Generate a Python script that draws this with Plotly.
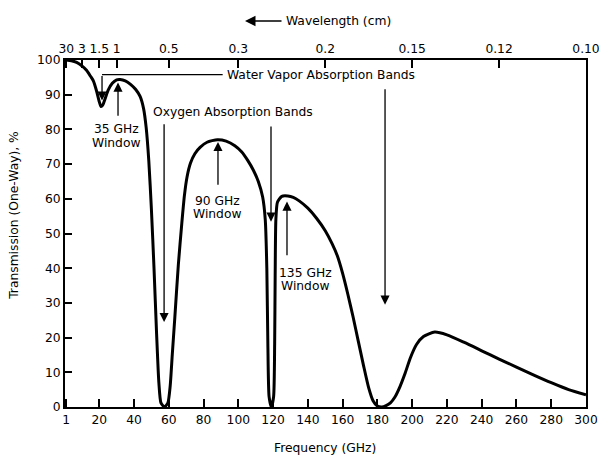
import plotly.graph_objects as go

# ---- data ----
freq_ghz = [1, 4, 7, 10, 12.8, 15, 16.6, 18.5, 20, 21, 22, 23.5, 25.2, 27.5, 30, 32, 35, 38, 41, 43.5,
            45.5, 47, 48.5, 50, 51.5, 53, 54.3, 55.5, 57.5, 59.5, 60.8, 62, 63.5, 65.5, 67.5, 69,
            70.5, 72.5, 75, 78, 82, 88, 93, 98, 102, 105.5, 108.6, 111.5, 114, 115.5, 116.4, 117, 117.7,
            119, 120.3, 120.9, 121.2, 121.6, 122.5, 125, 128.5, 131.6, 135, 140, 145, 150, 154, 157, 160,
            163, 166, 169, 172, 175, 177.5, 180, 182.5, 185, 187.5, 190, 193, 196, 199, 202.5, 206.5,
            213, 220, 230, 240, 250, 260, 270, 280, 290, 300]
transmission = [100, 99.8, 99.3, 98.3, 97, 95.3, 94, 91, 88, 86.6, 87, 89, 91.4, 93.3, 94.3, 94.4, 94, 93,
                91.5, 89.5, 86, 80.5, 71, 57, 40, 21, 7, 1.2, 0, 1.2, 6, 15, 26, 41, 53, 61,
                66.3, 70.3, 73, 74.8, 76.3, 77, 76.6, 75.3, 73.5, 71, 68.3, 65, 60.5, 54, 40, 18, 3,
                0, 3, 18, 38, 54, 59, 60.7, 60.8, 60.4, 59.4, 57.3, 54.4, 50.8, 47, 43.5, 38.5,
                32.5, 26, 19, 12, 5.5, 1.8, 0.3, 0, 0.4, 1.2, 2.8, 5.9, 9.8, 14.2, 18, 20.3,
                21.6, 20.8, 18.6, 16.2, 13.8, 11.5, 9.2, 7.0, 5.0, 3.5]

bottom_ticks = [1, 20, 40, 60, 80, 100, 120, 140, 160, 180, 200, 220, 240, 260, 280, 300]
bottom_labels = [str(v) for v in bottom_ticks]
wave_tick_freq = [1, 10, 20, 30, 60, 100, 150, 200, 250, 300]
wave_labels = ["30", "3", "1.5", "1", "0.5", "0.3", "0.2", "0.15", "0.12", "0.10"]
y_ticks = [0, 10, 20, 30, 40, 50, 60, 70, 80, 90, 100]

FONT = "DejaVu Sans"
FS = 12.3

fig = go.Figure()
fig.add_trace(go.Scatter(x=freq_ghz, y=transmission, mode="lines",
                         line=dict(color="black", width=3, shape="spline", smoothing=0.6),
                         showlegend=False, hoverinfo="skip"))
fig.add_trace(go.Scatter(x=[1, 300], y=[None, None], xaxis="x2", yaxis="y",
                         mode="lines", showlegend=False, hoverinfo="skip"))

common = dict(ticks="inside", tickwidth=1.5, tickcolor="black", showline=True, linecolor="black",
              linewidth=2, showgrid=False, zeroline=False, automargin=False,
              tickfont=dict(size=FS, family=FONT, color="black"))

fig.update_layout(
    width=601, height=458,
    margin=dict(l=65, r=15, t=60, b=51),
    paper_bgcolor="white", plot_bgcolor="white",
    font=dict(family=FONT, size=FS, color="black"),
    xaxis=dict(range=[0.3, 300], tickmode="array", tickvals=bottom_ticks, ticktext=bottom_labels,
               ticklen=8, **common),
    xaxis2=dict(range=[0.3, 300], overlaying="x", side="top", tickmode="array",
                tickvals=wave_tick_freq, ticktext=wave_labels, ticklen=8, **common),
    yaxis=dict(range=[0, 100], tickmode="array", tickvals=y_ticks, ticklen=7, mirror=True, **common),
)

def arrow(x, y_tail, y_tip):
    fig.add_annotation(x=x, y=y_tip, ax=x, ay=y_tail, xref="x", yref="y", axref="x", ayref="y",
                       text="", showarrow=True, arrowhead=2, arrowsize=1.4, arrowwidth=1.3,
                       arrowcolor="black", standoff=0, startstandoff=0)

def label(x, y, text, xanchor="center"):
    fig.add_annotation(x=x, y=y, xref="x", yref="y", text=text, showarrow=False,
                       xanchor=xanchor, yanchor="middle", font=dict(size=FS, family=FONT))

# Water vapor absorption bands
fig.add_shape(type="line", x0=21.6, x1=91.0, y0=95.8, y1=95.8, xref="x", yref="y",
              line=dict(color="black", width=1.3))
arrow(21.6, 95.8, 88.3)
label(92.3, 95.8, "Water Vapor Absorption Bands", xanchor="left")
arrow(184.4, 92.0, 29.5)

# Oxygen absorption bands
label(97, 85.0, "Oxygen Absorption Bands")
arrow(57.3, 81.9, 24.5)
arrow(118.8, 81.3, 53.4)

# Windows
arrow(30.8, 83.5, 93.5)
label(29.8, 80.0, "35 GHz")
label(29.8, 76.0, "Window")

arrow(88.3, 63.6, 76.4)
label(88.3, 59.4, "90 GHz")
label(88.3, 55.6, "Window")

arrow(128.0, 43.3, 59.2)
label(138.5, 38.7, "135 GHz")
label(138.5, 35.0, "Window")

# Axis titles (positions relative to the plot area, which spans px x 65-586, y 60-407)
fig.add_annotation(x=(325 - 65) / 521, y=(407.3 - 448) / 347.3, xref="paper", yref="paper",
                   text="Frequency (GHz)", showarrow=False, font=dict(size=FS, family=FONT),
                   xanchor="center", yanchor="middle")
fig.add_annotation(x=(14 - 65) / 521, y=(407.3 - 216) / 347.3, xref="paper", yref="paper",
                   text="Transmission (One-Way), %", textangle=-90, showarrow=False,
                   font=dict(size=FS, family=FONT), xanchor="center", yanchor="middle")

# Wavelength title with left arrow
fig.add_annotation(x=(338 - 65) / 521, y=(407.3 - 21) / 347.3, xref="paper", yref="paper",
                   text="Wavelength (cm)", showarrow=False, font=dict(size=FS, family=FONT),
                   xanchor="center", yanchor="middle")
fig.add_annotation(x=(245 - 65) / 521, y=(407.3 - 21) / 347.3, xref="paper", yref="paper",
                   ax=38, ay=0, axref="pixel", ayref="pixel", text="", showarrow=True,
                   arrowhead=2, arrowsize=1.4, arrowwidth=1.5, arrowcolor="black")

fig.write_html("out.html", config={"displayModeBar": False},
               post_script="document.body.style.margin='0';document.body.style.overflow='hidden';")
